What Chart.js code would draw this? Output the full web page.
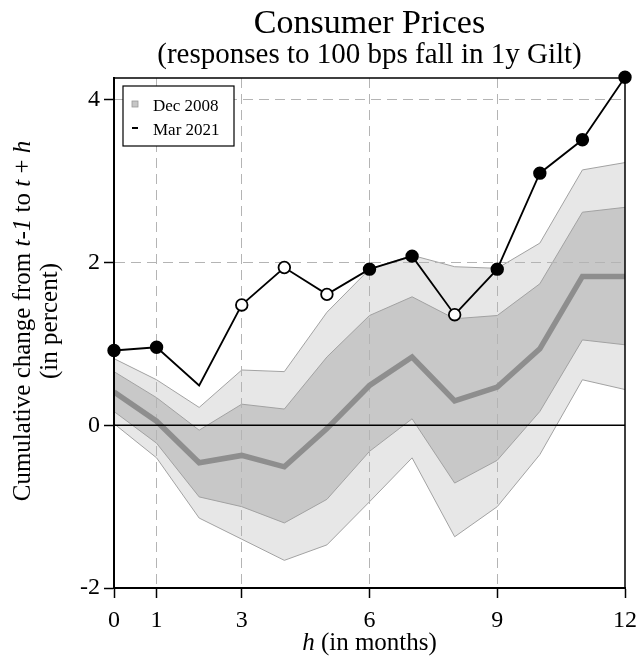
<!DOCTYPE html>
<html>
<head>
<meta charset="utf-8">
<script src="https://cdn.jsdelivr.net/npm/chart.js@4/dist/chart.umd.min.js"></script>
<style>
  html, body { margin: 0; padding: 0; background: #fff; }
</style>
</head>
<body>
<canvas id="chart" width="636" height="662"></canvas>
<script>
// horizon in months
const horizon = [0, 1, 2, 3, 4, 5, 6, 7, 8, 9, 10, 11, 12];

// Mar 2021 response
const mar2021 = [0.92, 0.96, 0.49, 1.48, 1.94, 1.61, 1.92, 2.08, 1.36, 1.92, 3.10, 3.51, 4.28];
const mar2021Hollow = [3, 4, 5, 8];
const mar2021NoMarker = [2];

// Dec 2008 response with bands
const dec2008Median = [0.41, 0.05, -0.46, -0.37, -0.51, -0.04, 0.49, 0.84, 0.30, 0.47, 0.94, 1.83, 1.83];
const dec2008InnerUp = [0.66, 0.34, -0.06, 0.26, 0.20, 0.84, 1.35, 1.58, 1.31, 1.35, 1.74, 2.62, 2.68];
const dec2008InnerLo = [0.17, -0.22, -0.88, -1.00, -1.20, -0.91, -0.32, 0.08, -0.71, -0.43, 0.17, 1.05, 0.99];
const dec2008OuterUp = [0.82, 0.56, 0.22, 0.68, 0.66, 1.39, 1.92, 2.09, 1.95, 1.93, 2.24, 3.14, 3.23];
const dec2008OuterLo = [0.02, -0.40, -1.14, -1.40, -1.66, -1.47, -0.94, -0.40, -1.37, -1.00, -0.36, 0.56, 0.44];

const xTicks = [0, 1, 3, 6, 9, 12];
const yTicks = [-2, 0, 2, 4];

const SERIF = "'Liberation Serif', 'Times New Roman', serif";
const gridGray = '#b4b4b4';
const bandEdge = '#a2a2a2';

function toPoints(ys) {
    return horizon.map((h, i) => ({ x: h, y: ys[i] }));
}

// dashed grid gets redrawn over the bands so it shows through them
const gridOverBands = {
    id: 'gridOverBands',
    afterDatasetDraw(chart, args) {
        if (args.index !== 3) return;
        const area = chart.chartArea;
        const ctx = chart.ctx;
        ctx.save();
        ctx.beginPath();
        ctx.rect(area.left, area.top, area.right - area.left, area.bottom - area.top);
        ctx.clip();
        chart.scales.x.drawGrid(area);
        chart.scales.y.drawGrid(area);
        ctx.restore();
    }
};

const frameAndText = {
    id: 'frameAndText',
    afterDraw(chart) {
        const ctx = chart.ctx;
        const a = chart.chartArea;

        // top and right edges of the box
        ctx.save();
        ctx.strokeStyle = '#000';
        ctx.lineWidth = 1.5;
        ctx.beginPath();
        ctx.moveTo(a.left, a.top);
        ctx.lineTo(a.right, a.top);
        ctx.lineTo(a.right, a.bottom);
        ctx.stroke();
        ctx.restore();

        // legend box
        const lx = a.left + 9, ly = a.top + 8, lw = 111, lh = 60;
        ctx.save();
        ctx.fillStyle = '#fff';
        ctx.fillRect(lx, ly, lw, lh);
        ctx.strokeStyle = '#000';
        ctx.lineWidth = 1.2;
        ctx.strokeRect(lx, ly, lw, lh);
        ctx.fillStyle = '#c6c6c6';
        ctx.fillRect(lx + 9, ly + 15, 6, 6);
        ctx.strokeStyle = '#9a9a9a';
        ctx.lineWidth = 0.8;
        ctx.strokeRect(lx + 9, ly + 15, 6, 6);
        ctx.strokeStyle = '#000';
        ctx.lineWidth = 2;
        ctx.beginPath();
        ctx.moveTo(lx + 9, ly + 42);
        ctx.lineTo(lx + 15, ly + 42);
        ctx.stroke();
        ctx.fillStyle = '#000';
        ctx.font = '17px ' + SERIF;
        ctx.textBaseline = 'middle';
        ctx.textAlign = 'left';
        ctx.fillText('Dec 2008', lx + 30, ly + 21);
        ctx.fillText('Mar 2021', lx + 30, ly + 45);
        ctx.restore();

        // axis titles with italic symbols
        const drawParts = (parts, cx, cy, size) => {
            const fonts = parts.map(p => (p[1] ? 'italic ' : '') + size + 'px ' + SERIF);
            let total = 0;
            parts.forEach((p, i) => { ctx.font = fonts[i]; total += ctx.measureText(p[0]).width; });
            let x = cx - total / 2;
            parts.forEach((p, i) => {
                ctx.font = fonts[i];
                ctx.fillText(p[0], x, cy);
                x += ctx.measureText(p[0]).width;
            });
        };
        ctx.save();
        ctx.fillStyle = '#000';
        ctx.textBaseline = 'middle';
        ctx.textAlign = 'left';
        drawParts([['h', true], [' (in months)', false]], (a.left + a.right) / 2, 643, 25);

        ctx.translate(0, (a.top + a.bottom) / 2 - 12);
        ctx.rotate(-Math.PI / 2);
        drawParts([['Cumulative change from ', false], ['t-1', true], [' to ', false],
                   ['t', true], [' + ', false], ['h', true]], 0, 23, 25);
        drawParts([['(in percent)', false]], 0, 50, 25);
        ctx.restore();
    }
};

const tickFont = { family: SERIF, size: 24 };

// higher order is painted first
const config = {
    type: 'line',
    data: {
        datasets: [
            {
                data: toPoints(dec2008OuterUp), order: 7,
                borderColor: bandEdge, borderWidth: 1,
                backgroundColor: '#e7e7e7',
                fill: '+1', pointRadius: 0, tension: 0
            },
            {
                data: toPoints(dec2008OuterLo), order: 6,
                borderColor: bandEdge, borderWidth: 1,
                fill: false, pointRadius: 0, tension: 0
            },
            {
                data: toPoints(dec2008InnerUp), order: 5,
                borderColor: bandEdge, borderWidth: 1,
                backgroundColor: '#c8c8c8',
                fill: '+1', pointRadius: 0, tension: 0
            },
            {
                data: toPoints(dec2008InnerLo), order: 4,
                borderColor: bandEdge, borderWidth: 1,
                fill: false, pointRadius: 0, tension: 0
            },
            {
                data: toPoints(dec2008Median), order: 3,
                borderColor: '#8e8e8e', borderWidth: 5.5,
                fill: false, pointRadius: 0, tension: 0
            },
            {
                // zero line
                data: [{ x: horizon[0], y: 0 }, { x: horizon[horizon.length - 1], y: 0 }], order: 2,
                borderColor: '#000', borderWidth: 1.5,
                fill: false, pointRadius: 0
            },
            {
                data: toPoints(mar2021), order: 1,
                borderColor: '#000', borderWidth: 1.8,
                fill: false, tension: 0, clip: false,
                pointStyle: 'circle',
                pointRadius: c => mar2021NoMarker.includes(horizon[c.dataIndex]) ? 0 : 5.8,
                pointBackgroundColor: c => mar2021Hollow.includes(horizon[c.dataIndex]) ? '#fff' : '#000',
                pointBorderColor: '#000',
                pointBorderWidth: 1.8
            }
        ]
    },
    options: {
        responsive: false,
        animation: false,
        devicePixelRatio: 1,
        layout: { autoPadding: false, padding: { left: 0, right: 11, top: 0, bottom: 0 } },
        plugins: {
            legend: { display: false },
            tooltip: { enabled: false },
            title: {
                display: true, fullSize: false,
                text: 'Consumer Prices',
                color: '#000',
                font: { family: SERIF, size: 34, weight: 'normal', lineHeight: 1 },
                padding: { top: 7, bottom: 0 }
            },
            subtitle: {
                display: true, fullSize: false,
                text: '(responses to 100 bps fall in 1y Gilt)',
                color: '#000',
                font: { family: SERIF, size: 29, weight: 'normal', lineHeight: 1 },
                padding: { top: 0, bottom: 8 }
            }
        },
        scales: {
            x: {
                type: 'linear', min: 0, max: 12,
                afterBuildTicks: s => { s.ticks = xTicks.map(v => ({ value: v })); },
                afterFit: s => { s.height = 74; s.paddingLeft = 0; s.paddingRight = 0; },
                grid: {
                    color: c => (c.tick && c.tick.value > 0 && c.tick.value < 12) ? gridGray : 'rgba(0,0,0,0)',
                    lineWidth: 1,
                    tickColor: '#000', tickLength: 10, tickWidth: 1.5
                },
                border: { color: '#000', width: 2, dash: [10, 6], z: 1 },
                ticks: { font: tickFont, color: '#000', padding: 8, maxRotation: 0, autoSkip: false }
            },
            y: {
                type: 'linear', min: -2, max: 4.27,
                afterBuildTicks: s => { s.ticks = yTicks.map(v => ({ value: v })); },
                afterFit: s => { s.width = 114; s.paddingTop = 0; s.paddingBottom = 0; },
                grid: {
                    color: c => (c.tick && (c.tick.value === 2 || c.tick.value === 4)) ? gridGray : 'rgba(0,0,0,0)',
                    lineWidth: 1,
                    tickColor: '#000', tickLength: 10, tickWidth: 1.5
                },
                border: { color: '#000', width: 2, dash: [10, 6], z: 1 },
                ticks: { font: tickFont, color: '#000', padding: 4 }
            }
        }
    },
    plugins: [gridOverBands, frameAndText]
};

new Chart(document.getElementById('chart'), config);
</script>
</body>
</html>
